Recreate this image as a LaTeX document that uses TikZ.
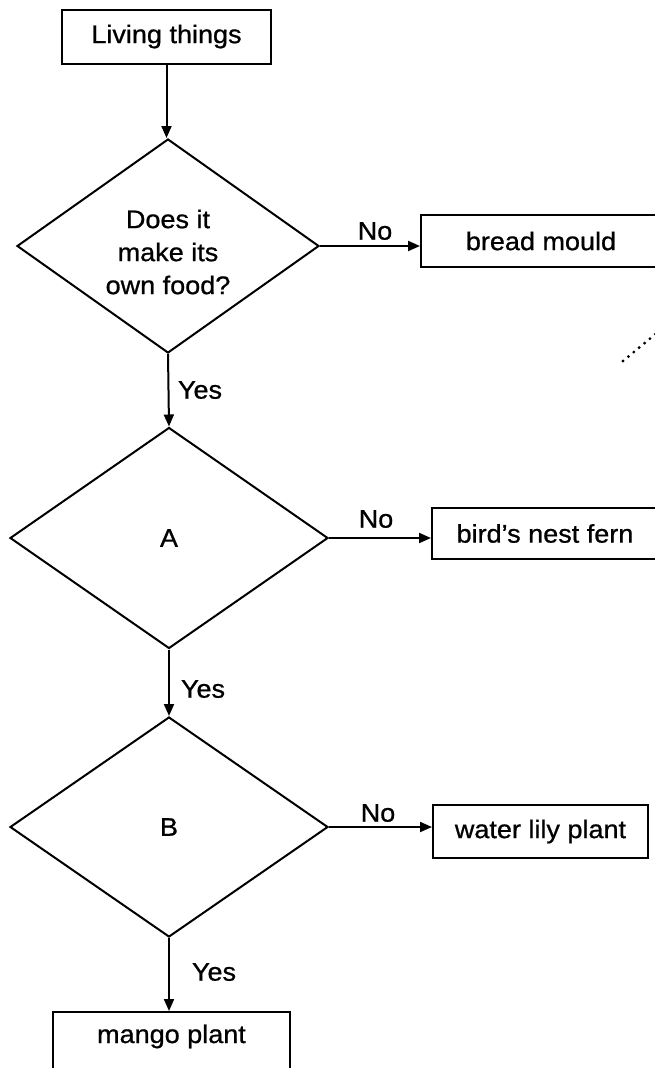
\documentclass[tikz,border=0pt]{standalone}
\usepackage{fontspec}
\setmainfont{Liberation Sans}[FakeStretch=1.06,FakeBold=0.8]
\usetikzlibrary{shapes.geometric,arrows.meta}
\tikzset{
  base/.style={font=\fontsize{25.5}{33}\selectfont},
  box/.style={base,draw,line width=2pt,rectangle,inner sep=0pt},
  dia/.style={draw,line width=2pt,diamond,inner sep=0pt},
  txt/.style={base,align=center,inner sep=0pt},
  lab/.style={base,inner sep=0pt},
  conn/.style={line width=2pt,-{Triangle[length=12pt,width=10pt]}}
}
\begin{document}
\begin{tikzpicture}[x=1pt,y=-1pt]
\useasboundingbox (0,0) rectangle (655,1068);
\clip (0,0) rectangle (655,1068);
\fill[white] (0,0) rectangle (655,1068);
% boxes
\node[box,minimum width=209pt,minimum height=54pt] (living) at (166.5,36.5) {Living things};
\node[box,minimum width=240pt,minimum height=52pt] (bread) at (541,241) {bread mould};
\node[box,minimum width=226pt,minimum height=51pt] (bird) at (545,533.5) {bird's nest fern};
\node[box,minimum width=215pt,minimum height=53pt] (water) at (540.5,831.5) {water lily plant};
\node[box,minimum width=237pt,anchor=north,inner ysep=4pt,text height=27pt,text depth=40pt] (mango) at (171.5,1011) {mango plant};
% diamonds
\node[dia,minimum width=302pt,minimum height=214pt] (d1) at (168,246) {};
\node[txt] (t1) at (168,252) {Does it\\make its\\own food?};
\node[dia,minimum width=318pt,minimum height=221pt] (d2) at (169,538) {};
\node[txt] (t2) at (d2) {A};
\node[dia,minimum width=318pt,minimum height=220pt] (d3) at (169,827) {};
\node[txt] (t3) at (d3) {B};
% connectors
\draw[conn] (living.south) -- (living.south |- d1.north);
\draw[conn] (d1.south) -- (d2.north);
\draw[conn] (d2.south) -- (d3.north);
\draw[conn] (d3.south) -- (d3.south |- mango.north);
\draw[conn] (d1.east) -- (d1.east -| bread.west);
\draw[conn] (d2.east) -- (d2.east -| bird.west);
\draw[conn] (d3.east) -- (d3.east -| water.west);
% labels
\node[lab] (no1) at (375,231) {No};
\node[lab] (no2) at (376,519) {No};
\node[lab] (no3) at (378,813) {No};
\node[lab] (yes1) at (200,390) {Yes};
\node[lab] (yes2) at (203,689) {Yes};
\node[lab] (yes3) at (214,972) {Yes};
% stray dotted mark
\coordinate (m1) at (623,361);
\coordinate (m2) at (664,327);
\draw[line width=3.2pt,line cap=round,dash pattern=on 0pt off 7pt] (m1) -- (m2);
\end{tikzpicture}
\end{document}
